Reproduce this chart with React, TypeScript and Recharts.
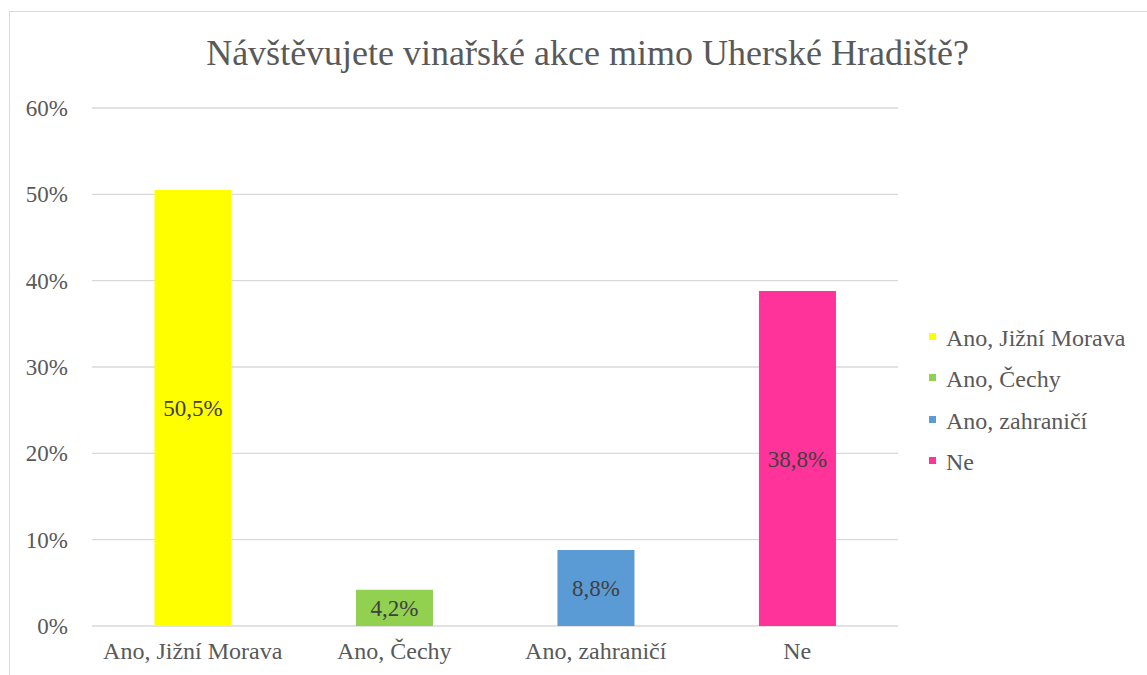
import React from "react";
import { BarChart, Bar, XAxis, YAxis, CartesianGrid, Cell, LabelList, Legend } from "recharts";

const categories = ["Ano, Jižní Morava", "Ano, Čechy", "Ano, zahraničí", "Ne"];
const values = [50.5, 4.2, 8.8, 38.8];
const colors = ["#FFFF00", "#92D050", "#5B9BD5", "#FF3399"];
const yTicks = [0, 10, 20, 30, 40, 50, 60];
const boundaryTicks = [0, 1, 2, 3, 4];
const title = "Návštěvujete vinařské akce mimo Uherské Hradiště?";

const data = categories.map((name, i) => ({ name, value: values[i], idx: i + 0.5 }));

const FONT = "Liberation Serif";
const TEXT = "#595959";

const LegendContent = () => (
  <div style={{ fontFamily: FONT, fontSize: 24, color: TEXT }}>
    {categories.map((c, i) => (
      <div key={c} style={{ display: "flex", alignItems: "center", height: 41.5, lineHeight: "28px" }}>
        <span style={{ width: 7, height: 7, background: colors[i], display: "inline-block", marginRight: 10, marginTop: -3 }} />
        <span>{c}</span>
      </div>
    ))}
  </div>
);

export default function App() {
  return (
    <div style={{ position: "absolute", left: 0, top: 0, width: 1147, height: 675, background: "#fff", fontFamily: FONT }}>
      <div style={{ position: "absolute", left: 9, top: 11, width: 1137, height: 663, borderTop: "1px solid #d9d9d9", borderLeft: "1px solid #d9d9d9" }} />
      <div style={{ position: "absolute", left: 0, top: 33, width: 1147, paddingLeft: 28, boxSizing: "border-box", textAlign: "center", fontFamily: FONT, fontSize: 36, color: TEXT, lineHeight: "40px" }}>
        {title}
      </div>
      <div style={{ position: "absolute", left: 0, top: 0 }}>
        <BarChart
          width={1147}
          height={675}
          data={data}
          margin={{ top: 108, right: 249, bottom: 0, left: 0 }}
          barCategoryGap="31%"
          style={{ fontFamily: FONT }}
        >
          <CartesianGrid vertical={false} stroke="#d9d9d9" strokeWidth={1.3} />
          <XAxis
            xAxisId="ticks"
            type="number"
            dataKey="idx"
            domain={[0, 4]}
            ticks={boundaryTicks}
            tick={false}
            height={0}
            tickSize={7}
            axisLine={{ stroke: "#d9d9d9", strokeWidth: 1.3 }}
            tickLine={{ stroke: "#d9d9d9", strokeWidth: 1.3 }}
          />
          <XAxis
            xAxisId="cat"
            dataKey="name"
            height={49}
            axisLine={false}
            tickLine={false}
            tickSize={0}
            tickMargin={16}
            tick={{ fill: TEXT, fontSize: 24, fontFamily: FONT }}
            interval={0}
          />
          <YAxis
            width={92}
            domain={[0, 60]}
            ticks={yTicks}
            tickFormatter={(v: number) => `${v}%`}
            axisLine={false}
            tickLine={false}
            tickSize={0}
            tickMargin={24}
            tick={{ fill: TEXT, fontSize: 23, fontFamily: FONT }}
          />
          <Legend
            layout="horizontal"
            verticalAlign="middle"
            content={<LegendContent />}
            wrapperStyle={{ position: "absolute", left: 929, top: 317, width: 218 }}
          />
          <Bar dataKey="value" xAxisId="cat" isAnimationActive={false}>
            {data.map((d, i) => (
              <Cell key={d.name} fill={colors[i]} />
            ))}
            <LabelList
              dataKey="value"
              position="center"
              formatter={(v: number) => `${String(v).replace(".", ",")}%`}
              style={{ fill: "#404040", fontSize: 23, fontFamily: FONT }}
            />
          </Bar>
        </BarChart>
      </div>
    </div>
  );
}
